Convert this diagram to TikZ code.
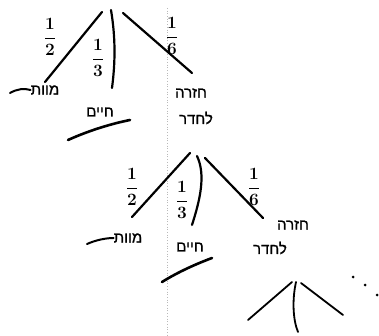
\documentclass[tikz,border=0pt]{standalone}
\usepackage{fontspec}
\newfontfamily\hebfont[Script=Hebrew,FakeBold=1.2]{Liberation Sans}
\TeXXeTstate=1
\begin{document}
\begin{tikzpicture}[x=1pt,y=-1pt,
  branch/.style={line width=2.2pt, line cap=round},
  stroke/.style={line width=2pt, line cap=round},
  heb/.style={font=\hebfont\fontsize{15}{18}\selectfont, inner sep=0pt},
  prob/.style={font=\fontsize{17}{19}\selectfont\boldmath, inner sep=0pt},
  dotmark/.style={fill=black}]
\useasboundingbox (0,0) rectangle (379,336);
\draw[gray!55, dotted, line width=0.7pt] (167,8) -- (167,336);

% ---- tree 1
\coordinate (t1l) at (102,12);
\coordinate (t1m) at (111,10);
\coordinate (t1r) at (123,13);
\coordinate (e1l) at (45,82);
\coordinate (e1m) at (112,88);
\coordinate (e1r) at (192,73);
\draw[branch] (t1l) -- (e1l);
\draw[branch] (t1m) .. controls (116,40) and (115,65) .. (e1m);
\draw[branch] (t1r) -- (e1r);
\node[prob] (p1a) at (50,37) {$\displaystyle\frac{1}{2}$};
\node[prob] (p1b) at (98,58) {$\displaystyle\frac{1}{3}$};
\node[prob] (p1c) at (172,36) {$\displaystyle\frac{1}{6}$};

\node[heb] (d1) at (45,90) {\beginR מוות\endR};
\coordinate (d1t) at (10,93);
\draw[stroke] (d1t) .. controls (17,89) and (24,88) .. (d1.west);
\node[heb] (h1) at (100,112) {\beginR חיים\endR};
\coordinate (u1a) at (68,140);
\coordinate (u1b) at (130,120);
\draw[line width=2.6pt, line cap=round] (u1a) .. controls (88,131) and (110,124) .. (u1b);
\node[heb] (r1a) at (191,93) {\beginR חזרה\endR};
\node[heb] (r1b) at (196,118) {\beginR לחדר\endR};

% ---- tree 2
\coordinate (t2l) at (190,153);
\coordinate (t2m) at (197,156);
\coordinate (t2r) at (205,158);
\coordinate (e2l) at (132,217);
\coordinate (e2m) at (192,225);
\coordinate (e2r) at (263,218);
\draw[branch] (t2l) -- (e2l);
\draw[branch] (t2m) .. controls (206,175) and (200,200) .. (e2m);
\draw[branch] (t2r) -- (e2r);
\node[prob] (p2a) at (132,187) {$\displaystyle\frac{1}{2}$};
\node[prob] (p2b) at (182,200) {$\displaystyle\frac{1}{3}$};
\node[prob] (p2c) at (254,187) {$\displaystyle\frac{1}{6}$};

\node[heb] (d2) at (128,238) {\beginR מוות\endR};
\coordinate (d2t) at (87,244);
\draw[stroke] (d2t) .. controls (96,240) and (106,238) .. (d2.west);
\node[heb] (h2) at (190,247) {\beginR חיים\endR};
\coordinate (u2a) at (162,282);
\coordinate (u2b) at (212,258);
\draw[line width=2.6pt, line cap=round] (u2a) .. controls (178,272) and (196,264) .. (u2b);
\node[heb] (r2a) at (293,225) {\beginR חזרה\endR};
\node[heb] (r2b) at (270,248) {\beginR לחדר\endR};

% ---- tree 3
\coordinate (t3l) at (292,282);
\coordinate (t3m) at (296,282);
\coordinate (t3r) at (301,283);
\coordinate (e3l) at (248,320);
\coordinate (e3m) at (298,332);
\coordinate (e3r) at (343,315);
\draw[branch, line width=1.8pt] (t3l) -- (e3l);
\draw[branch, line width=1.8pt] (t3m) .. controls (292,300) and (293,320) .. (e3m);
\draw[branch, line width=1.8pt] (t3r) -- (e3r);
\fill[dotmark] (353,277) circle (1.5);
\fill[dotmark] (365,285) circle (1.5);
\fill[dotmark] (377,295) circle (1.5);
\end{tikzpicture}
\end{document}
